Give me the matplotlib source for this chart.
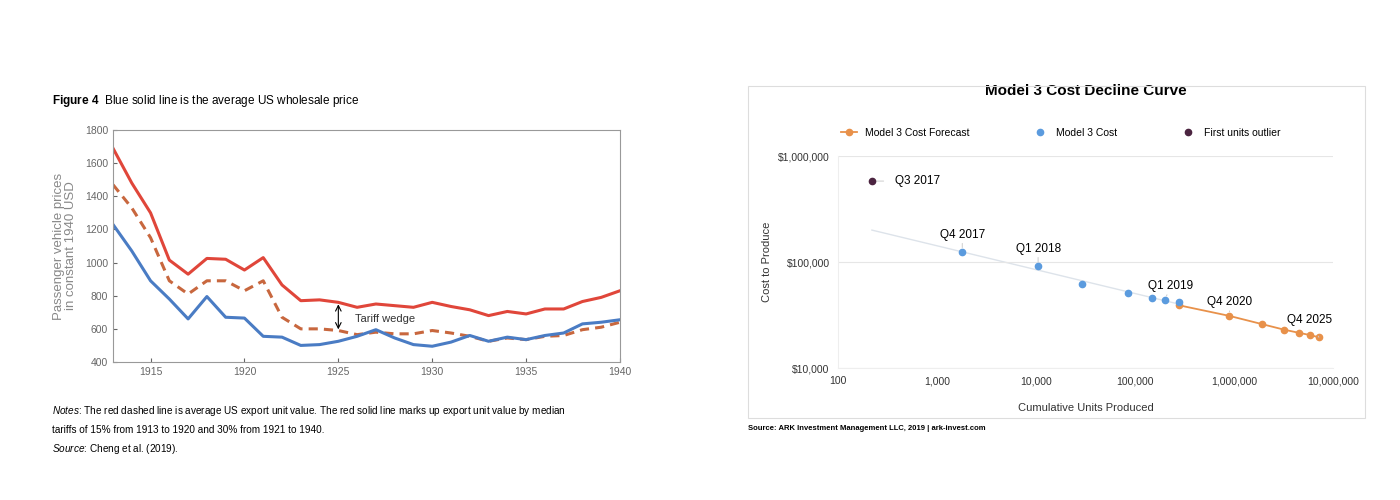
import numpy as np
import matplotlib.pyplot as plt
from matplotlib.ticker import FixedLocator, FuncFormatter, NullLocator

plt.rcParams['font.family'] = ['Liberation Sans', 'DejaVu Sans']
plt.rcParams['mathtext.fontset'] = 'custom'
plt.rcParams['mathtext.rm'] = 'Liberation Sans'
plt.rcParams['mathtext.bf'] = 'Liberation Sans:bold'
plt.rcParams['mathtext.it'] = 'Liberation Sans:italic'

# left panel: US car prices 1913-1940
years = list(range(1913, 1941))
red_solid = [1690, 1480, 1300, 1015, 930, 1025, 1020, 955, 1030, 865, 770, 775, 760, 730,
             750, 740, 730, 760, 735, 715, 680, 705, 690, 720, 720, 765, 790, 830]
red_dashed = [1470, 1330, 1150, 890, 810, 890, 890, 830, 890, 670, 600, 600, 590, 565,
              580, 570, 570, 590, 575, 555, 525, 545, 535, 555, 560, 595, 610, 640]
blue_solid = [1230, 1070, 890, 780, 660, 795, 670, 665, 555, 550, 500, 505, 525, 555,
              595, 545, 505, 495, 520, 560, 525, 550, 535, 560, 575, 630, 640, 655]

# right panel: Model 3 cost curve
outlier_units = [220]
outlier_cost = [580000]
cost_units = [1800, 10500, 29000, 85000, 150000, 200000, 280000]
cost_vals = [125000, 92000, 62000, 51000, 46000, 44000, 42000]
fc_units = [280000, 900000, 1900000, 3200000, 4500000, 5800000, 7200000]
fc_vals = [39000, 31000, 26000, 23000, 21500, 20500, 19500]
trend_units = [220, 280000]
trend_vals = [200000, 40000]

W, H = 1400, 500
fig = plt.figure(figsize=(14, 5), dpi=100)

def box(l, t, r, b):
    return [l / W, 1 - b / H, (r - l) / W, (b - t) / H]

# ---- left chart
ax = fig.add_axes(box(113, 130, 620, 362))
ax.plot(years, red_solid, color='#e0463a', lw=2.2)
ax.plot(years, red_dashed, color='#c8673e', lw=2.2, ls=(0, (3, 2)))
ax.plot(years, blue_solid, color='#4a7cc4', lw=2.2)
ax.set_xlim(1913, 1940)
ax.set_ylim(400, 1800)
ax.set_xticks([1915, 1920, 1925, 1930, 1935, 1940])
ax.set_yticks(range(400, 1801, 200))
ax.tick_params(labelsize=7.5, colors='#666666', direction='in', length=3)
for s in ax.spines.values():
    s.set_color('#999999')
ax.set_ylabel('Passenger vehicle prices\nin constant 1940 USD', fontsize=9.5, color='#888888',
              labelpad=6, linespacing=1.0)
ax.annotate('', xy=(1925, 580), xytext=(1925, 765),
            arrowprops=dict(arrowstyle='<->', color='black', lw=0.8))
ax.text(1925.9, 640, 'Tariff wedge', fontsize=8, color='#333333')

fig.text(52 / W, 1 - 101 / H, r'$\bf{Figure\ 4}$  Blue solid line is the average US wholesale price',
         fontsize=8.5, va='center')
fig.text(52 / W, 1 - 411 / H, r'$\it{Notes}$: The red dashed line is average US export unit value. '
         'The red solid line marks up export unit value by median', fontsize=7.2, va='center')
fig.text(52 / W, 1 - 430 / H, 'tariffs of 15% from 1913 to 1920 and 30% from 1921 to 1940.',
         fontsize=7.2, va='center')
fig.text(52 / W, 1 - 449 / H, r'$\it{Source}$: Cheng et al. (2019).', fontsize=7.2, va='center')

# ---- right chart
frame = plt.Rectangle((748 / W, 1 - 418 / H), (1365 - 748) / W, (418 - 86) / H,
                      transform=fig.transFigure, fill=False, ec='#dddddd', lw=0.8)
fig.add_artist(frame)

ax2 = fig.add_axes(box(838, 156, 1333, 368))
ax2.set_xscale('log')
ax2.set_yscale('log')
ax2.set_xlim(100, 1e7)
ax2.set_ylim(1e4, 1e6)
ax2.plot(trend_units, trend_vals, color='#dde3ea', lw=1, zorder=1)
ax2.plot(fc_units, fc_vals, color='#e8914a', lw=1.3, marker='o', ms=4.5,
         label='Model 3 Cost Forecast', zorder=3)
ax2.plot(cost_units, cost_vals, ls='none', color='#5b9bde', marker='o', ms=4.5,
         label='Model 3 Cost', zorder=4)
ax2.plot(outlier_units, outlier_cost, ls='none', color='#4b2440', marker='o', ms=4.5,
         label='First units outlier', zorder=4)
ax2.yaxis.set_major_locator(FixedLocator([1e4, 1e5, 1e6]))
ax2.yaxis.set_minor_locator(NullLocator())
ax2.xaxis.set_major_locator(FixedLocator([1e2, 1e3, 1e4, 1e5, 1e6, 1e7]))
ax2.xaxis.set_minor_locator(NullLocator())
ax2.xaxis.set_major_formatter(FuncFormatter(lambda v, p: f'{v:,.0f}'))
ax2.yaxis.set_major_formatter(FuncFormatter(lambda v, p: f'${v:,.0f}'))
ax2.grid(axis='y', color='#e6e6e6', lw=0.8)
for k in ['top', 'right']:
    ax2.spines[k].set_visible(False)
ax2.spines['left'].set_color('#eeeeee')
ax2.spines['bottom'].set_color('#eeeeee')
ax2.tick_params(length=0, labelsize=7.5, colors='#333333', pad=6)
ax2.set_xlabel('Cumulative Units Produced', fontsize=8, color='#333333', labelpad=12)
ax2.set_ylabel('Cost to Produce', fontsize=8, color='#333333')
ax2.set_title('Model 3 Cost Decline Curve', fontsize=11, fontweight='bold', pad=44)
ax2.legend(loc='lower center', bbox_to_anchor=(0.45, 1.04), ncol=3, frameon=False,
           fontsize=7.5, columnspacing=6, handlelength=1.5)

labels = [('Q3 2017', outlier_units[0], outlier_cost[0], 1.7, 1.0),
          ('Q4 2017', cost_units[0], cost_vals[0], 1.0, 1.45),
          ('Q1 2018', cost_units[1], cost_vals[1], 1.0, 1.45),
          ('Q1 2019', cost_units[5], cost_vals[5], 1.15, 1.35),
          ('Q4 2020', fc_units[1], fc_vals[1], 1.0, 1.35),
          ('Q4 2025', fc_units[6], fc_vals[6], 0.8, 1.45)]
for txt, x, y, fx, fy in labels:
    ax2.annotate(txt, xy=(x, y), xytext=(x * fx, y * fy), fontsize=8.5,
                 ha='left' if fx > 1.5 else 'center', va='center',
                 arrowprops=dict(arrowstyle='-', color='#cccccc', lw=0.7, shrinkA=6, shrinkB=3))

fig.text(748 / W, 1 - 428 / H, 'Source: ARK Investment Management LLC, 2019 | ark-invest.com',
         fontsize=5.5, fontweight='bold', va='center')

fig.savefig('out.png', dpi=100)
